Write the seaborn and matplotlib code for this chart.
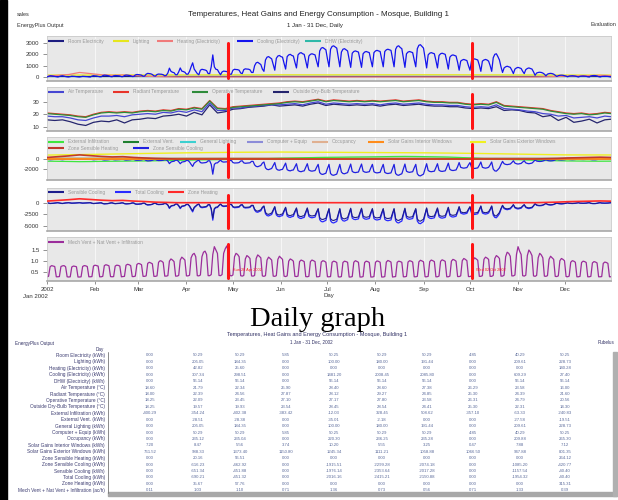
import numpy as np
import matplotlib
matplotlib.use("Agg")
import matplotlib.pyplot as plt
from matplotlib.patches import Rectangle
import seaborn as sns

sns.set_style("white")
plt.rcParams['font.family'] = ['Liberation Sans', 'DejaVu Sans']

W, H = 618, 500

# ---------------- data ----------------
month_ticks = [0, 31, 59, 90, 120, 151, 181, 212, 243, 273, 304, 334]
month_labels = ["2002", "Feb", "Mar", "Apr", "May", "Jun", "Jul", "Aug", "Sep", "Oct", "Nov", "Dec"]
month_days = [0, 31, 59, 90, 120, 151, 181, 212, 243, 273, 304, 334, 364]
week_days = np.arange(0, 365, 7)
five_days = np.append(np.arange(0, 365, 5), 364)
marker_days = [117, 274]
marker_labels = ["Sun 28 Apr 2002", "Wed 02 Oct 2002"]

# daily cooling electricity (kWh)
cooling_elec = [
    0, 60, 110, 100, 80, 50, 20,
    0, 50, 90, 110, 70, 40, 10,
    0, 40, 70, 60, 50, 30, 10,
    0, 30, 60, 50, 40, 30, 10,
    0, 80, 120, 100, 90, 60, 20,
    20, 120, 160, 150, 130, 100, 40,
    20, 100, 130, 120, 110, 90, 30,
    30, 130, 170, 160, 140, 110, 40,
    50, 180, 220, 210, 190, 160, 70,
    80, 250, 320, 300, 280, 220, 100,
    80, 220, 260, 250, 240, 200, 100,
    150, 350, 780, 500, 420, 380, 200,
    200, 450, 800, 520, 480, 420, 250,
    250, 500, 900, 1250, 700, 500, 300,
    200, 600, 680, 650, 620, 560, 300,
    300, 900, 1950, 900, 680, 650, 400,
    200, 450, 520, 500, 480, 420, 250,
    250, 600, 680, 660, 650, 600, 350,
    300, 650, 720, 700, 690, 640, 400,
    400, 1000, 1250, 1300, 1200, 1100, 700,
    500, 1500, 1750, 1800, 1700, 1600, 1100,
    600, 1650, 1850, 1900, 1800, 1750, 1200,
    700, 1800, 1950, 2000, 1900, 1850, 1300,
    800, 1950, 2100, 2150, 2050, 2000, 1400,
    800, 1850, 2000, 2050, 2000, 1950, 1400,
    900, 2300, 2550, 2600, 2500, 2400, 1600,
    900, 2450, 2700, 2750, 2650, 2550, 1700,
    900, 2200, 2450, 2500, 2400, 2300, 1600,
    850, 2100, 2250, 2300, 2250, 2200, 1500,
    850, 2050, 2200, 2250, 2200, 2150, 1500,
    900, 2150, 2300, 2350, 2300, 2250, 1550,
    900, 2250, 2400, 2450, 2400, 2350, 1600,
    900, 2450, 2700, 2750, 2600, 2500, 1700,
    850, 2050, 2200, 2250, 2200, 2150, 1500,
    900, 2500, 2800, 2850, 2700, 2550, 1700,
    800, 1950, 2100, 2150, 2100, 2050, 1450,
    800, 1900, 2050, 2100, 2050, 2000, 1400,
    700, 1750, 1900, 1950, 1900, 1850, 1300,
    600, 1400, 1500, 1550, 1500, 1450, 1000,
    600, 1450, 1550, 1600, 1550, 1500, 1050,
    500, 1400, 1500, 1550, 1500, 1400, 1000,
    500, 1700, 2000, 2050, 1800, 1500, 900,
    400, 800, 900, 950, 900, 850, 600,
    300, 700, 800, 850, 800, 750, 500,
    300, 650, 750, 800, 750, 700, 450,
    150, 350, 400, 420, 400, 350, 250,
    100, 250, 300, 320, 300, 250, 150,
    50, 120, 150, 160, 150, 120, 80,
    20, 80, 100, 110, 100, 80, 40,
    0, 60, 80, 90, 80, 60, 20,
    0, 90, 120, 130, 120, 90, 30,
    0, 50, 60, 70, 60, 50, 20,
    0]

# daily total cooling (kWh)
total_cooling = [
    0, -100, -180, -160, -130, -80, -30,
    0, -80, -140, -180, -110, -60, -20,
    0, -60, -110, -100, -80, -50, -20,
    0, -50, -100, -80, -60, -50, -20,
    0, -130, -190, -160, -140, -100, -30,
    -30, -190, -260, -240, -210, -160, -60,
    -30, -160, -210, -190, -180, -140, -50,
    -50, -210, -270, -260, -220, -180, -60,
    -80, -290, -350, -340, -300, -260, -110,
    -130, -400, -510, -480, -450, -350, -160,
    -130, -350, -420, -400, -380, -320, -160,
    -240, -560, -1250, -800, -670, -610, -320,
    -320, -720, -1280, -830, -770, -670, -400,
    -400, -800, -1440, -2000, -1120, -800, -480,
    -320, -960, -1090, -1040, -990, -900, -480,
    -480, -1440, -3800, -1440, -1090, -1040, -640,
    -320, -720, -830, -800, -770, -670, -400,
    -400, -960, -1090, -1060, -1040, -960, -560,
    -480, -1040, -1150, -1120, -1100, -1020, -640,
    -640, -1600, -2000, -2080, -1920, -1760, -1120,
    -800, -2400, -2800, -2880, -2720, -2560, -1760,
    -960, -2640, -2960, -3040, -2880, -2800, -1920,
    -1120, -2880, -3120, -3200, -3040, -2960, -2080,
    -1280, -3120, -3360, -3440, -3280, -3200, -2240,
    -1280, -2960, -3200, -3280, -3200, -3120, -2240,
    -1440, -3680, -4080, -4160, -4000, -3840, -2560,
    -1440, -3920, -4320, -4400, -4240, -4080, -2720,
    -1440, -3520, -3920, -4000, -3840, -3680, -2560,
    -1360, -3360, -3600, -3680, -3600, -3520, -2400,
    -1360, -3280, -3520, -3600, -3520, -3440, -2400,
    -1440, -3440, -3680, -3760, -3680, -3600, -2480,
    -1440, -3600, -3840, -3920, -3840, -3760, -2560,
    -1440, -3920, -4320, -4400, -4160, -4000, -2720,
    -1360, -3280, -3520, -3600, -3520, -3440, -2400,
    -1440, -4000, -4480, -4560, -4320, -4080, -2720,
    -1280, -3120, -3360, -3440, -3360, -3280, -2320,
    -1280, -3040, -3280, -3360, -3280, -3200, -2240,
    -1120, -2800, -3040, -3120, -3040, -2960, -2080,
    -960, -2240, -2400, -2480, -2400, -2320, -1600,
    -960, -2320, -2480, -2560, -2480, -2400, -1680,
    -800, -2240, -2400, -2480, -2400, -2240, -1600,
    -800, -2720, -3200, -3280, -2880, -2400, -1440,
    -640, -1280, -1440, -1520, -1440, -1360, -960,
    -480, -1120, -1280, -1360, -1280, -1200, -800,
    -480, -1040, -1200, -1280, -1200, -1120, -720,
    -240, -560, -640, -670, -640, -560, -400,
    -160, -400, -480, -510, -480, -400, -240,
    -80, -190, -240, -260, -240, -190, -130,
    -30, -130, -160, -180, -160, -130, -60,
    0, -100, -130, -140, -130, -100, -30,
    0, -140, -190, -210, -190, -140, -50,
    0, -80, -100, -110, -100, -80, -30,
    0]

# daily sensible cooling (kWh)
sensible_cooling = [
    0, -90, -160, -140, -120, -70, -30,
    0, -70, -120, -160, -100, -50, -20,
    0, -50, -100, -90, -70, -40, -20,
    0, -40, -90, -70, -50, -40, -20,
    0, -110, -170, -140, -120, -90, -30,
    -30, -170, -230, -210, -190, -140, -50,
    -30, -140, -190, -170, -160, -120, -40,
    -40, -190, -240, -230, -200, -160, -50,
    -70, -260, -310, -300, -270, -230, -100,
    -110, -350, -450, -420, -400, -310, -140,
    -110, -310, -370, -350, -340, -280, -140,
    -210, -490, -1100, -700, -590, -540, -280,
    -280, -630, -1130, -730, -680, -590, -350,
    -350, -700, -1270, -1760, -990, -700, -420,
    -280, -850, -960, -920, -870, -790, -420,
    -420, -1270, -3350, -1270, -960, -920, -560,
    -280, -630, -730, -700, -680, -590, -350,
    -350, -850, -960, -930, -920, -850, -490,
    -420, -920, -1010, -990, -970, -900, -560,
    -560, -1410, -1760, -1830, -1690, -1550, -990,
    -700, -2110, -2460, -2530, -2390, -2250, -1550,
    -850, -2320, -2600, -2680, -2530, -2460, -1690,
    -990, -2530, -2750, -2820, -2680, -2600, -1830,
    -1130, -2750, -2960, -3030, -2890, -2820, -1970,
    -1130, -2600, -2820, -2890, -2820, -2750, -1970,
    -1270, -3240, -3590, -3660, -3520, -3380, -2250,
    -1270, -3450, -3800, -3870, -3730, -3590, -2390,
    -1270, -3100, -3450, -3520, -3380, -3240, -2250,
    -1200, -2960, -3170, -3240, -3170, -3100, -2110,
    -1200, -2890, -3100, -3170, -3100, -3030, -2110,
    -1270, -3030, -3240, -3310, -3240, -3170, -2180,
    -1270, -3170, -3380, -3450, -3380, -3310, -2250,
    -1270, -3450, -3800, -3870, -3660, -3520, -2390,
    -1200, -2890, -3100, -3170, -3100, -3030, -2110,
    -1270, -3520, -3940, -4010, -3800, -3590, -2390,
    -1130, -2750, -2960, -3030, -2960, -2890, -2040,
    -1130, -2680, -2890, -2960, -2890, -2820, -1970,
    -990, -2460, -2680, -2750, -2680, -2600, -1830,
    -850, -1970, -2110, -2180, -2110, -2040, -1410,
    -850, -2040, -2180, -2250, -2180, -2110, -1480,
    -700, -1970, -2110, -2180, -2110, -1970, -1410,
    -700, -2390, -2820, -2890, -2530, -2110, -1270,
    -560, -1130, -1270, -1340, -1270, -1200, -850,
    -420, -990, -1130, -1200, -1130, -1060, -700,
    -420, -920, -1060, -1130, -1060, -990, -630,
    -210, -490, -560, -590, -560, -490, -350,
    -140, -350, -420, -450, -420, -350, -210,
    -70, -170, -210, -230, -210, -170, -110,
    -30, -110, -140, -160, -140, -110, -50,
    0, -90, -110, -120, -110, -90, -30,
    0, -120, -170, -180, -170, -120, -40,
    0, -70, -90, -100, -90, -70, -30,
    0]

# daily zone sensible cooling (kWh)
zone_sens_cooling = [
    0, -70, -130, -120, -90, -60, -20,
    0, -60, -100, -130, -80, -50, -10,
    0, -50, -80, -70, -60, -30, -10,
    0, -30, -70, -60, -50, -30, -10,
    0, -90, -140, -120, -100, -70, -20,
    -20, -140, -180, -170, -150, -120, -50,
    -20, -120, -150, -140, -130, -100, -30,
    -30, -150, -200, -180, -160, -130, -50,
    -60, -210, -250, -240, -220, -180, -80,
    -90, -290, -370, -350, -320, -250, -120,
    -90, -250, -300, -290, -280, -230, -120,
    -170, -400, -900, -580, -480, -440, -230,
    -230, -520, -920, -600, -550, -480, -290,
    -290, -580, -1040, -1440, -800, -580, -350,
    -230, -690, -780, -750, -710, -640, -350,
    -350, -1040, -2950, -1040, -780, -750, -460,
    -230, -520, -600, -580, -550, -480, -290,
    -290, -690, -780, -760, -750, -690, -400,
    -350, -750, -830, -800, -790, -740, -460,
    -460, -1150, -1440, -1500, -1380, -1260, -800,
    -580, -1720, -2010, -2070, -1960, -1840, -1260,
    -690, -1900, -2130, -2180, -2070, -2010, -1380,
    -800, -2070, -2240, -2300, -2180, -2130, -1500,
    -920, -2240, -2410, -2470, -2360, -2300, -1610,
    -920, -2130, -2300, -2360, -2300, -2240, -1610,
    -1040, -2640, -2930, -2990, -2870, -2760, -1840,
    -1040, -2820, -3100, -3160, -3050, -2930, -1950,
    -1040, -2530, -2820, -2870, -2760, -2640, -1840,
    -980, -2410, -2590, -2640, -2590, -2530, -1720,
    -980, -2360, -2530, -2590, -2530, -2470, -1720,
    -1040, -2470, -2640, -2700, -2640, -2590, -1780,
    -1040, -2590, -2760, -2820, -2760, -2700, -1840,
    -1040, -2820, -3100, -3160, -2990, -2870, -1950,
    -980, -2360, -2530, -2590, -2530, -2470, -1720,
    -1040, -2870, -3220, -3280, -3100, -2930, -1950,
    -920, -2240, -2410, -2470, -2410, -2360, -1670,
    -920, -2180, -2360, -2410, -2360, -2300, -1610,
    -800, -2010, -2180, -2240, -2180, -2130, -1500,
    -690, -1610, -1720, -1780, -1720, -1670, -1150,
    -690, -1670, -1780, -1840, -1780, -1720, -1210,
    -580, -1610, -1720, -1780, -1720, -1610, -1150,
    -580, -1950, -2300, -2360, -2070, -1720, -1040,
    -460, -920, -1040, -1090, -1040, -980, -690,
    -350, -800, -920, -980, -920, -860, -580,
    -350, -750, -860, -920, -860, -800, -520,
    -170, -400, -460, -480, -460, -400, -290,
    -120, -290, -350, -370, -350, -290, -170,
    -60, -140, -170, -180, -170, -140, -90,
    -20, -90, -120, -130, -120, -90, -50,
    0, -70, -90, -100, -90, -70, -20,
    0, -100, -140, -150, -140, -100, -30,
    0, -60, -70, -80, -70, -60, -20,
    0]

# daily mech vent + nat vent + infiltration (ac/h)
air_changes = [
    0.30, 0.32, 0.75, 0.80, 0.78, 0.76, 0.30,
    0.30, 0.31, 0.76, 0.79, 0.80, 0.75, 0.30,
    0.29, 0.30, 0.74, 0.78, 0.77, 0.75, 0.29,
    0.29, 0.30, 0.76, 0.80, 0.79, 0.76, 0.30,
    0.30, 0.31, 0.78, 0.82, 0.80, 0.78, 0.30,
    0.30, 0.32, 0.80, 0.84, 0.82, 0.79, 0.31,
    0.30, 0.31, 0.78, 0.82, 0.81, 0.78, 0.30,
    0.31, 0.32, 0.82, 0.86, 0.84, 0.80, 0.31,
    0.31, 0.33, 0.85, 0.90, 0.88, 0.84, 0.32,
    0.32, 0.34, 0.90, 0.95, 0.92, 0.88, 0.32,
    0.32, 0.34, 0.95, 1.02, 1.00, 0.94, 0.33,
    0.33, 0.35, 1.00, 1.10, 1.05, 0.98, 0.33,
    0.33, 0.36, 1.05, 1.18, 1.12, 1.05, 0.34,
    0.34, 0.37, 1.15, 1.30, 1.35, 1.20, 0.35,
    0.34, 0.38, 1.20, 1.40, 1.45, 1.30, 0.35,
    0.35, 0.40, 1.30, 1.65, 1.50, 1.35, 0.36,
    0.35, 0.40, 1.35, 1.55, 1.68, 1.45, 0.36,
    0.34, 0.38, 1.20, 1.35, 1.30, 1.20, 0.35,
    0.33, 0.36, 1.10, 1.25, 1.20, 1.12, 0.34,
    0.33, 0.36, 1.12, 1.28, 1.22, 1.15, 0.34,
    0.32, 0.35, 1.05, 1.18, 1.12, 1.05, 0.33,
    0.32, 0.35, 1.08, 1.22, 1.15, 1.08, 0.33,
    0.31, 0.34, 1.00, 1.10, 1.06, 1.00, 0.32,
    0.31, 0.33, 0.98, 1.05, 1.02, 0.98, 0.31,
    0.30, 0.32, 0.98, 1.05, 1.02, 0.98, 0.30,
    0.30, 0.32, 0.96, 1.02, 1.00, 0.95, 0.30,
    0.30, 0.31, 0.95, 1.00, 0.98, 0.94, 0.30,
    0.29, 0.31, 0.94, 1.00, 0.98, 0.95, 0.29,
    0.29, 0.31, 0.95, 1.02, 0.99, 0.95, 0.29,
    0.29, 0.31, 0.94, 1.00, 0.98, 0.94, 0.29,
    0.29, 0.31, 0.95, 1.01, 0.99, 0.95, 0.29,
    0.29, 0.31, 0.96, 1.03, 1.00, 0.96, 0.29,
    0.30, 0.31, 0.95, 1.00, 0.98, 0.95, 0.30,
    0.30, 0.32, 0.96, 1.02, 1.00, 0.96, 0.30,
    0.30, 0.32, 0.97, 1.04, 1.01, 0.97, 0.30,
    0.30, 0.32, 0.98, 1.05, 1.02, 0.98, 0.30,
    0.30, 0.33, 0.99, 1.06, 1.03, 0.99, 0.30,
    0.30, 0.33, 1.00, 1.08, 1.05, 1.00, 0.31,
    0.31, 0.34, 1.02, 1.12, 1.08, 1.02, 0.31,
    0.31, 0.34, 1.05, 1.15, 1.10, 1.04, 0.32,
    0.32, 0.35, 1.08, 1.18, 1.14, 1.08, 0.32,
    0.32, 0.36, 1.12, 1.25, 1.20, 1.12, 0.33,
    0.33, 0.37, 1.20, 1.40, 1.35, 1.22, 0.34,
    0.34, 0.38, 1.30, 1.65, 1.45, 1.30, 0.35,
    0.33, 0.37, 1.25, 1.50, 1.40, 1.25, 0.34,
    0.32, 0.36, 1.15, 1.35, 1.28, 1.15, 0.33,
    0.32, 0.35, 1.08, 1.22, 1.15, 1.08, 0.32,
    0.31, 0.34, 1.02, 1.12, 1.08, 1.02, 0.31,
    0.30, 0.33, 0.95, 1.02, 1.00, 0.95, 0.30,
    0.30, 0.32, 0.94, 1.00, 0.98, 0.94, 0.30,
    0.30, 0.32, 0.92, 0.98, 0.96, 0.92, 0.30,
    0.30, 0.31, 0.90, 0.96, 0.94, 0.90, 0.30,
    0.30]

# temperatures every 5 days (deg C)
air_temp = [18.5, 18.0, 18.0, 17.0, 15.5, 15.0, 17.0, 18.5, 18.5, 19.0,
            18.0, 19.5, 20.0, 20.5, 20.0, 21.5, 21.0, 22.5, 21.5, 23.5,
            22.0, 29.0, 23.0, 23.0, 25.0, 25.0, 26.0, 26.5, 27.0, 27.5,
            27.5, 28.0, 28.5, 27.5, 29.0, 30.0, 28.0, 29.0, 28.5, 28.0,
            28.5, 28.0, 28.5, 27.5, 28.5, 29.0, 28.0, 28.5, 29.0, 28.0,
            27.5, 27.5, 27.0, 27.0, 26.0, 25.5, 26.0, 25.5, 27.5, 24.5,
            24.0, 23.5, 22.5, 22.0, 20.5, 20.0, 18.5, 19.0, 17.0, 17.5,
            18.0, 17.0, 18.5, 18.0]
radiant_temp = [21.0, 20.5, 20.0, 19.5, 18.5, 18.0, 20.0, 21.5, 22.0, 21.5,
                22.0, 21.5, 22.5, 23.0, 22.5, 23.5, 23.0, 24.5, 24.0, 25.5,
                24.5, 31.0, 25.0, 24.5, 26.0, 26.5, 27.0, 27.5, 28.0, 28.5,
                29.0, 30.0, 30.5, 30.0, 31.0, 32.0, 30.5, 31.5, 31.0, 30.5,
                31.0, 30.5, 31.0, 30.5, 31.0, 31.5, 30.5, 31.0, 31.5, 30.5,
                30.0, 30.0, 29.5, 29.5, 28.5, 28.0, 28.5, 28.0, 30.0, 27.0,
                26.5, 26.0, 25.5, 25.0, 24.5, 23.0, 22.0, 21.0, 20.5, 21.0,
                20.0, 20.5, 21.5, 21.0]
operative_temp = [20.5, 20.0, 19.5, 19.0, 18.0, 17.5, 19.5, 21.0, 21.5, 21.0,
                  21.5, 21.0, 22.0, 22.5, 22.0, 23.0, 22.5, 24.0, 23.5, 25.0,
                  24.0, 30.5, 24.5, 24.0, 25.5, 26.0, 26.5, 27.0, 27.5, 28.0,
                  28.5, 29.5, 30.0, 29.5, 30.5, 31.5, 30.0, 31.0, 30.5, 30.0,
                  30.5, 30.0, 30.5, 30.0, 30.5, 31.0, 30.0, 30.5, 31.0, 30.0,
                  29.5, 29.5, 29.0, 29.0, 28.0, 27.5, 28.0, 27.5, 29.5, 26.5,
                  26.0, 25.5, 25.0, 24.5, 24.0, 22.5, 21.5, 20.5, 20.0, 20.5,
                  19.5, 20.0, 21.0, 20.5]
outside_temp = [15.5, 15.0, 15.5, 14.0, 12.0, 11.0, 13.5, 14.5, 14.0, 15.5,
                13.0, 15.5, 16.0, 17.0, 16.5, 18.5, 19.0, 20.0, 18.5, 21.5,
                19.5, 27.5, 21.0, 22.0, 24.0, 24.5, 25.5, 26.0, 26.5, 27.5,
                26.5, 27.0, 27.5, 26.5, 28.0, 29.0, 27.0, 28.0, 27.5, 27.0,
                27.5, 27.0, 27.5, 26.5, 27.5, 28.0, 27.0, 27.5, 28.0, 27.0,
                26.5, 26.5, 26.0, 26.0, 25.0, 24.5, 25.0, 24.5, 26.0, 23.0,
                23.5, 23.0, 21.5, 21.0, 18.0, 19.0, 15.0, 17.5, 13.5, 14.5,
                16.0, 13.0, 15.5, 16.0]

# weekly values (kWh)
heating_elec = [80, 150, 220, 400, 300, 200, 150, 180, 110, 70, 40, 20,
                0, 0, 0, 0, 0, 0, 0, 0, 0, 0, 0, 0, 0, 0, 0, 0, 0, 0, 0, 0, 0,
                0, 0, 0, 0, 0, 0, 0, 0, 0, 0, 0, 0, 0,
                20, 40, 80, 100, 120, 150, 120]
zone_sens_heating = [300, 450, 600, 800, 650, 500, 400, 450, 300, 200, 100, 50,
                     0, 0, 0, 0, 0, 0, 0, 0, 0, 0, 0, 0, 0, 0, 0, 0, 0, 0, 0, 0, 0,
                     0, 0, 0, 0, 0, 0, 0, 0, 0, 0, 0, 0, 0,
                     50, 100, 200, 250, 300, 350, 300]
zone_heating = [350, 500, 650, 850, 700, 550, 450, 500, 350, 250, 120, 60,
                0, 0, 0, 0, 0, 0, 0, 0, 0, 0, 0, 0, 0, 0, 0, 0, 0, 0, 0, 0, 0,
                0, 0, 0, 0, 0, 0, 0, 0, 0, 0, 0, 0, 0,
                60, 120, 220, 280, 330, 380, 330]
ext_infiltration = [-420, -450, -480, -520, -500, -460, -440, -420, -400, -380, -350, -300, -260,
                    -220, -180, -150, -120, -80, -40, 0,
                    50, 100, 150, 200, 250, 300, 330, 350, 380, 400, 420, 450, 480, 500, 480, 450, 420, 380,
                    300, 200, 100, 0, -60, -120, -180,
                    -250, -300, -340, -380, -400, -420, -430, -420]

# monthly values (kWh)
room_elec = [42, 45, 46, 47, 48, 49, 49, 49, 48, 47, 46, 45, 44]
lighting = [170, 175, 180, 185, 190, 195, 190, 195, 200, 195, 185, 175, 170]
dhw_elec = [56.14, 56.14, 56.14, 56.14, 56.14, 56.14, 56.14, 56.14, 56.14, 56.14, 56.14, 56.14, 56.14]
ext_vent = [-22, -24, -26, -28, -30, -33, -35, -35, -33, -29, -26, -24, -22]
occupancy = [200, 205, 210, 215, 220, 225, 225, 225, 220, 215, 210, 205, 200]
solar_int = [7, 8, 8, 7, 6, 5, 5, 5, 6, 7, 8, 7, 7]
solar_ext = [760, 900, 1050, 1200, 1300, 1350, 1300, 1250, 1200, 1100, 950, 800, 780]

# table
row_labels = ["Room Electricity (kWh)", "Lighting (kWh)", "Heating (Electricity) (kWh)",
              "Cooling (Electricity) (kWh)", "DHW (Electricity) (kWh)", "Air Temperature (°C)",
              "Radiant Temperature (°C)", "Operative Temperature (°C)",
              "Outside Dry-Bulb Temperature (°C)", "External Infiltration (kWh)",
              "External Vent. (kWh)", "General Lighting (kWh)", "Computer + Equip (kWh)",
              "Occupancy (kWh)", "Solar Gains Interior Windows (kWh)",
              "Solar Gains Exterior Windows (kWh)", "Zone Sensible Heating (kWh)",
              "Zone Sensible Cooling (kWh)", "Sensible Cooling (kWh)", "Total Cooling (kWh)",
              "Zone Heating (kWh)", "Mech Vent + Nat Vent + Infiltration (ac/h)"]
col01 = [0.00, 0.00, 0.00, 0.00, 0.00, 18.60, 18.00, 18.25, 18.25, -400.29, 0.00, 0.00, 0.00, 0.00, 7.20, 761.52, 0.00, 0.00, 0.00, 0.00, 0.00, 0.11]
col02 = [50.29, 205.05, 42.82, 307.34, 56.14, 21.79, 22.39, 22.09, 19.57, -354.24, -28.51, 205.05, 50.29, 235.12, 8.47, 988.33, 20.16, -616.23, -651.34, -690.21, 35.67, 1.03]
col03 = [50.29, 184.35, 25.60, 298.51, 56.14, 22.34, 24.56, 23.45, 19.93, -402.38, -28.38, 184.35, 50.29, 235.04, 5.56, 1373.40, 56.51, -462.92, -451.88, -451.32, 57.76, 1.10]
col04 = [5.85, 0.00, 0.00, 0.00, 0.00, 25.90, 27.87, 27.10, 23.54, -383.42, 0.00, 0.00, 5.85, 0.00, 3.74, 1150.80, 0.00, 0.00, 0.00, 0.00, 0.00, 0.71]
col05 = [50.25, 100.00, 0.00, 1481.20, 56.14, 28.40, 28.12, 27.17, 28.45, -12.03, -35.01, 100.00, 50.25, 220.30, 10.20, 1245.34, 0.00, -1915.51, -1976.14, -2016.16, 0.00, 1.36]
col06 = [50.29, 180.00, 0.00, 2008.45, 56.14, 28.60, 29.27, 27.80, 28.54, 328.45, -2.18, 180.00, 50.29, 236.25, 5.55, 1111.21, 0.00, -2299.28, -2353.64, -2415.21, 0.00, 0.73]
col07 = [50.29, 191.44, 0.00, 2085.80, 56.14, 27.38, 24.85, 23.58, 24.41, 508.62, 0.00, 191.44, 50.29, 235.28, 3.25, 1058.88, 0.00, -2074.18, -2017.28, -2150.88, 0.00, 0.56]
col08 = [4.85, 0.00, 0.00, 0.00, 0.00, 26.29, 25.30, 26.31, 25.30, -357.10, 0.00, 0.00, 4.85, 0.00, 0.47, 1066.50, 0.00, 0.00, 0.00, 0.00, 0.00, 0.71]
col09 = [40.29, 209.61, 0.00, 609.29, 56.14, 23.58, 24.39, 24.79, 22.31, -63.33, -27.58, 209.61, 40.29, 209.88, 7.88, 947.88, 0.00, -1085.20, -1157.54, -1954.32, 0.00, 1.33]
col10 = [50.25, 228.73, 140.28, 27.40, 56.14, 16.00, 21.60, 20.56, 14.30, -240.83, -19.51, 228.73, 50.25, 265.30, 7.12, 801.35, 264.12, -420.77, -40.40, -40.40, 315.31, 0.39]
table_cols = [col01, col02, col03, col04, col05, col06, col07, col08, col09, col10]

# ---------------- figure ----------------
fig = plt.figure(figsize=(W / 100, H / 100), dpi=100)
fig.patch.set_facecolor('white')

X0, X1 = 47, 611


def panel(y0, y1):
    return fig.add_axes([X0 / W, 1 - y1 / H, (X1 - X0) / W, (y1 - y0) / H])


def line(ax, x, y, color, lw=0.8, z=2):
    sns.lineplot(x=np.asarray(x)[:len(y)], y=y, ax=ax, color=color, linewidth=lw,
                 zorder=z, errorbar=None, legend=False)


def finish(ax, ylim, yticks, ylabels, last=False):
    ax.set_facecolor('#e8e8e8')
    ax.set_xlim(0, 364)
    ax.set_ylim(*ylim)
    ax.set_xticks(month_ticks)
    ax.set_yticks(yticks)
    ax.set_yticklabels(ylabels)
    ax.set_xlabel('')
    ax.set_ylabel('')
    ax.grid(axis='x', color='#f6f6f6', lw=0.8, zorder=0)
    ax.grid(axis='y', visible=False)
    ax.tick_params(axis='y', length=3, width=0.5, colors='#666666', labelcolor='#333333',
                   labelsize=4.3, pad=2.5, left=True)
    if last:
        ax.set_xticklabels(month_labels)
        ax.tick_params(axis='x', length=2.5, width=0.5, colors='#666666', labelcolor='#333333',
                       labelsize=4.3, pad=2, bottom=True)
    else:
        ax.tick_params(axis='x', length=0, labelbottom=False)
    for s in ax.spines.values():
        s.set_color('#cacaca')
        s.set_linewidth(0.6)
    ax.spines['bottom'].set_color('#a8a8a8')
    ax.spines['bottom'].set_linewidth(1.2)
    for d in marker_days:
        ax.axvline(d, ymin=0.07, ymax=0.84, color='#ff1414', lw=2.2, zorder=5)


# Panel 1: energy
ax1 = panel(36, 81)
line(ax1, month_days, dhw_elec, '#2fb8a8', 1.0)
line(ax1, month_days, room_elec, '#1c1c80', 0.8)
line(ax1, month_days, lighting, '#e6e61e', 0.9)
line(ax1, week_days, heating_elec, '#f07a7a', 0.9)
line(ax1, np.arange(365), cooling_elec, '#1414ee', 0.9, 3)
finish(ax1, (-353, 3618), [0, 1000, 2000, 3000], ["0", "1000", "2000", "3000"])

# Panel 2: temperatures
ax2 = panel(87, 131)
line(ax2, five_days, outside_temp, '#25256e', 0.9)
line(ax2, five_days, air_temp, '#4646d2', 0.9)
line(ax2, five_days, radiant_temp, '#e8342a', 0.9)
line(ax2, five_days, operative_temp, '#2e8b3a', 0.9)
finish(ax2, (6.56, 41.8), [10, 20, 30], ["10", "20", "30"])

# Panel 3: heat gains
ax3 = panel(137, 180)
line(ax3, month_days, ext_vent, '#1f7f2f', 0.8)
line(ax3, month_days, room_elec, '#8c8cd8', 0.8)
line(ax3, month_days, lighting, '#3cd0d0', 0.8)
line(ax3, month_days, occupancy, '#e0b090', 0.8)
line(ax3, week_days, ext_infiltration, '#3ee63e', 0.9)
line(ax3, month_days, solar_ext, '#f0f020', 1.0)
line(ax3, np.arange(365), zone_sens_cooling, '#2020e0', 0.9, 3)
line(ax3, month_days, solar_int, '#ff8c1a', 1.4, 4)
line(ax3, week_days, zone_sens_heating, '#c0392b', 1.2, 4)
finish(ax3, (-4078, 4272), [0, -2000], ["0", "-2000"])

# Panel 4: cooling
ax4 = panel(188, 231)
line(ax4, np.arange(365), total_cooling, '#2a2aff', 0.9)
line(ax4, np.arange(365), sensible_cooling, '#1c1c8c', 0.8)
line(ax4, week_days, zone_heating, '#ff2a2a', 1.2, 4)
finish(ax4, (-6152, 3196), [0, -2500, -5000], ["0", "-2500", "-5000"])

# Panel 5: ventilation
ax5 = panel(237, 281)
line(ax5, np.arange(365), air_changes, '#9b2d9b', 0.9)
finish(ax5, (0.111, 2.083), [0.5, 1.0, 1.5], ["0.5", "1.0", "1.5"], last=True)
for d, lab in zip(marker_days, marker_labels):
    ax5.text(d + 3, 0.6, lab, color='#ff2020', fontsize=2.8, va='center', zorder=6)

# ---------------- overlay (pixel coordinates) ----------------
ov = fig.add_axes([0, 0, 1, 1])
ov.set_xlim(0, W)
ov.set_ylim(H, 0)
ov.axis('off')

ov.add_patch(Rectangle((0, 0), 6.5, H, color='black'))

ov.text(17, 15, "sales", fontsize=4.0, color='#333333', va='center')
ov.text(17, 25, "EnergyPlus Output", fontsize=4.0, color='#333333', va='center')
ov.text(318, 15, "Temperatures, Heat Gains and Energy Consumption - Mosque, Building 1",
        fontsize=5.8, color='#222222', ha='center', va='center')
ov.text(315, 25, "1 Jan - 31 Dec, Daily", fontsize=4.3, color='#222222', ha='center', va='center')
ov.text(616, 25, "Evaluation", fontsize=4.0, color='#333333', va='center', ha='right')


def legend(entries, y):
    for label, color, x0 in entries:
        ov.plot([x0, x0 + 16], [y, y], color=color, lw=1.5, solid_capstyle='butt')
        ov.text(x0 + 20, y, label, fontsize=3.5, color='#9a9a9a', va='center', ha='left')


legend([("Room Electricity", '#1c1c80', 48), ("Lighting", '#e6e61e', 113),
        ("Heating (Electricity)", '#f07a7a', 157), ("Cooling (Electricity)", '#1414ee', 237),
        ("DHW (Electricity)", '#2fb8a8', 305)], 41)
legend([("Air Temperature", '#4646d2', 48), ("Radiant Temperature", '#e8342a', 113),
        ("Operative Temperature", '#2e8b3a', 192), ("Outside Dry-Bulb Temperature", '#25256e', 273)], 91.5)
legend([("External Infiltration", '#3ee63e', 48), ("External Vent.", '#1f7f2f', 123),
        ("General Lighting", '#3cd0d0', 180), ("Computer + Equip", '#8c8cd8', 247),
        ("Occupancy", '#e0b090', 312), ("Solar Gains Interior Windows", '#ff8c1a', 368),
        ("Solar Gains Exterior Windows", '#f0f020', 470)], 141.5)
legend([("Zone Sensible Heating", '#c0392b', 48), ("Zone Sensible Cooling", '#2020e0', 133)], 148.3)
legend([("Sensible Cooling", '#1c1c8c', 48), ("Total Cooling", '#2a2aff', 115),
        ("Zone Heating", '#ff2a2a', 168)], 192.3)
legend([("Mech Vent + Nat Vent + Infiltration", '#9b2d9b', 48)], 242)

ov.text(23, 296, "Jan 2002", fontsize=4.3, color='#333333', va='center')
ov.text(329, 296, "Day", fontsize=4.3, color='#333333', va='center', ha='center')

# caption
ov.text(317.5, 326, "Daily graph", family='Liberation Serif', fontsize=20.5, color='black',
        ha='center', va='baseline')

# table
ov.text(317.5, 334.5, "Temperatures, Heat Gains and Energy Consumption - Mosque, Building 1",
        fontsize=4.0, color='#333366', ha='center', va='center')
ov.text(311, 341.5, "1 Jan - 31 Dec, 2002", fontsize=3.3, color='#333366', ha='center', va='center')
ov.text(15, 343, "EnergyPlus Output", fontsize=3.3, color='#333366', va='center')
ov.text(615, 343, "Rubelus", fontsize=3.3, color='#333366', va='center', ha='right')
ov.text(100, 349.5, "Day", fontsize=3.3, color='#333366', va='center', ha='center')

ov.plot([108, 108], [352, 493], color='#777777', lw=0.6)
ov.add_patch(Rectangle((108, 492), 509, 4, color='#a8a8a8'))
ov.add_patch(Rectangle((613, 352), 4, 144, color='#b0b0b0'))

col_x = [150, 198, 240, 286, 334, 382, 427, 473, 520, 565]
row_y0, row_dy = 355.5, 6.42
for i, lab in enumerate(row_labels):
    y = row_y0 + i * row_dy
    ov.text(105, y, lab, ha='right', va='center', fontsize=3.4, color='#3b3b70')
    for cx, col in zip(col_x, table_cols):
        ov.text(cx, y, f"{col[i]:.2f}", ha='center', va='center', fontsize=3.1, color='#5a6a9a')

fig.savefig("out.png", dpi=100, facecolor='white')
